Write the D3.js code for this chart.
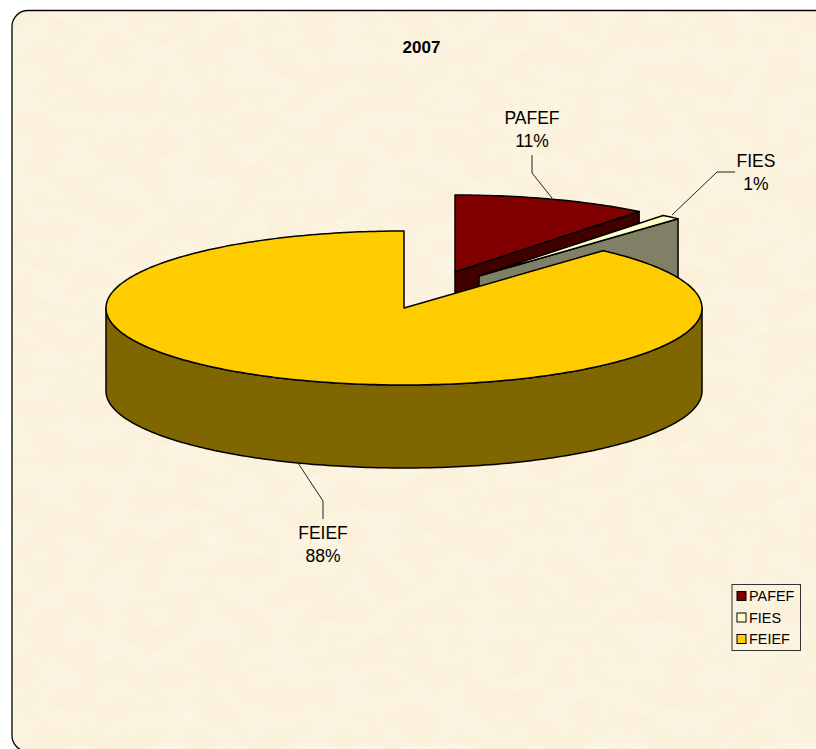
<!DOCTYPE html>
<html><head><meta charset="utf-8">
<script src="https://cdn.jsdelivr.net/npm/d3@7"></script>
<style>html,body{margin:0;padding:0;background:#fff;overflow:hidden}svg{display:block}text{font-family:"Liberation Sans",Arial,sans-serif;fill:#000}</style>
</head><body><svg id="c" width="816" height="749"></svg>
<script>
const titleText = "2007";
const categories = ["PAFEF","FIES","FEIEF"];
const values = [10.6,1.04,88.36];
const labelText = ["11%","1%","88%"];
const topColors = ["#800000","#FFFFCC","#FFCC00"];
const sideColors = ["#400000","#808066","#806600"];

const W=816,H=749,cx=404,cy=308,rx=298,ry=77,depth=83;
const explodeX=[51,75,0], explodeY=[-36,-32,0];
const svg=d3.select("#c");

const defs=svg.append("defs");
const f=defs.append("filter").attr("id","paper").attr("x",0).attr("y",0).attr("width","100%").attr("height","100%");
f.append("feTurbulence").attr("type","fractalNoise").attr("baseFrequency","0.03 0.045").attr("numOctaves",3).attr("seed",7).attr("result","n");
f.append("feColorMatrix").attr("in","n").attr("type","matrix")
 .attr("values","0 0 0 0 1  0 0 0 0 0.97  0 0 0 0 0.9  0.8 0 0 0 -0.25");
const frame=s=>s.attr("x",12).attr("y",10.5).attr("width",830).attr("height",741).attr("rx",16);
frame(defs.append("clipPath").attr("id","fr").append("rect"));

frame(svg.append("rect")).attr("fill","#FBF1DA");
svg.append("g").attr("clip-path","url(#fr)").append("rect").attr("width",W).attr("height",H).attr("filter","url(#paper)");
frame(svg.append("rect")).attr("fill","none").attr("stroke","#000").attr("stroke-width",1.3);

svg.append("text").attr("x",421.5).attr("y",53).attr("text-anchor","middle").attr("font-size",17).attr("font-weight","bold").text(titleText);

const pie=d3.pie().sort(null).value(d=>d)(values);
const px=(a,i)=>cx+explodeX[i]+rx*Math.sin(a);
const py=(a,i,z=0)=>cy+explodeY[i]-ry*Math.cos(a)+z;
function arcPts(a0,a1,i,z=0){const n=Math.max(2,Math.ceil((a1-a0)*60));
  return d3.range(n+1).map(k=>{const a=a0+(a1-a0)*k/n;return [px(a,i),py(a,i,z)]});}
const line=d3.line();
const mark=svg.append("g").attr("stroke","#000").attr("stroke-width",1.5).attr("stroke-linejoin","round");
function apex(i,z=0){return [cx+explodeX[i],cy+explodeY[i]+z];}
function cutFace(a,i){const o=[px(a,i),py(a,i)],b=[px(a,i),py(a,i,depth)];return line([apex(i),o,b,apex(i,depth)])+"Z";}
function topFace(s,i){return line([apex(i),...arcPts(s.startAngle,s.endAngle,i)])+"Z";}

// painter's order: exploded back slices first, main slice last
[0,1,2].forEach(i=>{const s=pie[i];
  if(i<2){mark.append("path").attr("d",cutFace(s.endAngle,i)).attr("fill",sideColors[i]);}
  else{
    const a0=Math.max(s.startAngle,Math.PI/2),a1=Math.min(s.endAngle,Math.PI*1.5);
    const up=arcPts(a0,a1,i),dn=arcPts(a0,a1,i,depth).reverse();
    mark.append("path").attr("d",line([...up,...dn])+"Z").attr("fill",sideColors[i]);
  }
  mark.append("path").attr("d",topFace(s,i)).attr("fill",topColors[i]);
});

// data labels with leader lines
const labelPos=[[532,123.5],[756,166.5],[323,538.5]];
const leaders=[[[552,198],[532,173],[532,155]],[[672,215],[717,172],[735,172]],[[298,463],[323,501],[323,519]]];
const lab=svg.append("g");
leaders.forEach(p=>lab.append("path").attr("d",line(p)).attr("fill","none").attr("stroke","#222").attr("stroke-width",1));
categories.forEach((c,i)=>{
  const t=lab.append("text").attr("text-anchor","middle").attr("font-size",17.5);
  t.append("tspan").attr("x",labelPos[i][0]).attr("y",labelPos[i][1]).text(c);
  t.append("tspan").attr("x",labelPos[i][0]).attr("y",labelPos[i][1]+23).text(labelText[i]);
});

// legend
const lg=svg.append("g");
lg.append("rect").attr("x",732).attr("y",584.5).attr("width",68.5).attr("height",66).attr("fill","none").attr("stroke","#333").attr("stroke-width",1);
const ly=d3.scalePoint().domain(categories).range([596,639]);
categories.forEach((c,i)=>{
  lg.append("rect").attr("x",737).attr("y",ly(c)-4.5).attr("width",9).attr("height",9).attr("fill",topColors[i]).attr("stroke","#000").attr("stroke-width",1);
  lg.append("text").attr("x",749).attr("y",ly(c)+5).attr("font-size",14.4).attr("fill","#222").text(c);
});
</script></body></html>
